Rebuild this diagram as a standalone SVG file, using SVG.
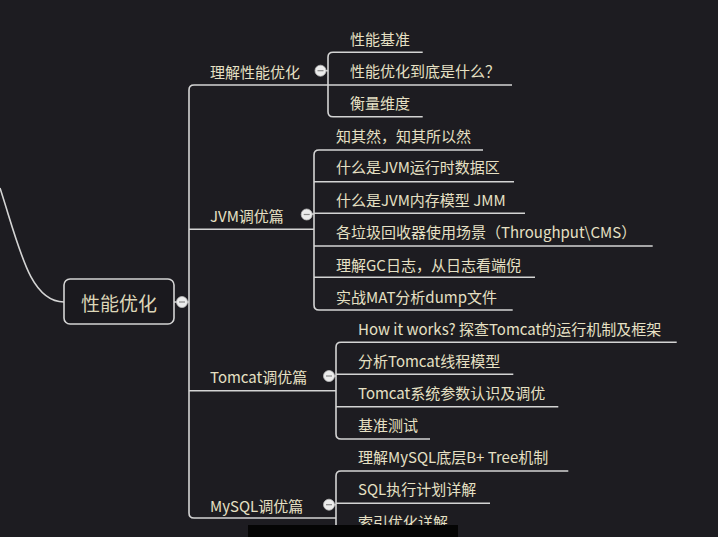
<svg xmlns="http://www.w3.org/2000/svg" width="718" height="537" viewBox="0 0 718 537">
<style>
.t{font-family:"Noto Sans CJK SC","Noto Sans",sans-serif;font-size:15px;fill:#e6e0c4;dominant-baseline:central}
.root{font-size:19px;fill:#ddd6b8}
.ln{fill:none;stroke:#d4d4d4;stroke-width:1.6}
.btn{fill:#ececec;stroke:#bdbdbd;stroke-width:0.8}
.mn{stroke:#8a8a8a;stroke-width:1.2}
</style>
<rect width="718" height="537" fill="#1d1c21"/>
<g id="connectors">
<path class="ln" d="M0,188 C20,250 30,302 64,302"/>
<path class="ln" d="M174,302 H189"/>
<path class="ln" d="M328,85 H194 Q189,85 189,90 V513 Q189,518 194,518 H336"/>
<path class="ln" d="M189,229.3 H314"/>
<path class="ln" d="M189,390.7 H336"/>
<path class="ln" d="M422.7,52.3 H333 Q328,52.3 328,57.3 V111.7 Q328,116.7 333,116.7 H422.7"/>
<path class="ln" d="M328,85 H512"/>
<path class="ln" d="M320,70.7 H328"/>
<path class="ln" d="M483,150 H319 Q314,150 314,155 V305 Q314,310 319,310 H512.7"/>
<path class="ln" d="M314,181.7 H514"/>
<path class="ln" d="M314,213.3 H525"/>
<path class="ln" d="M314,246 H652.7"/>
<path class="ln" d="M314,277.3 H535"/>
<path class="ln" d="M306.7,214 H314"/>
<path class="ln" d="M676.7,342.3 H341 Q336,342.3 336,347.3 V434 Q336,439 341,439 H430"/>
<path class="ln" d="M336,374.3 H513.3"/>
<path class="ln" d="M336,406.7 H558.3"/>
<path class="ln" d="M329,376 H336"/>
<path class="ln" d="M568.3,471 H341 Q336,471 336,476 V537"/>
<path class="ln" d="M336,503.3 H490"/>
<path class="ln" d="M329,504.7 H336"/>
</g>
<g id="root">
<rect x="64" y="279" width="110" height="45" rx="6" fill="#1a191e" stroke="#d4d4d4" stroke-width="1.6"/>
<text class="t root" x="119" y="302" text-anchor="middle">性能优化</text>
<circle class="btn" cx="182" cy="302" r="5.5"/><path class="mn" d="M179,302 H185"/>
</g>
<g id="n-lijie">
<text class="t" x="210" y="71">理解性能优化</text>
<circle class="btn" cx="320.5" cy="70.7" r="5.5"/><path class="mn" d="M317.5,70.7 H323.5"/>
</g>
<g id="n-lijie-1"><text class="t" x="350" y="38">性能基准</text></g>
<g id="n-lijie-2"><text class="t" x="350" y="70.7">性能优化到底是什么？</text></g>
<g id="n-lijie-3"><text class="t" x="350" y="102.7">衡量维度</text></g>
<g id="n-jvm">
<text class="t" x="210" y="215">JVM调优篇</text>
<circle class="btn" cx="306.7" cy="214.5" r="5.5"/><path class="mn" d="M303.7,214.5 H309.7"/>
</g>
<g id="n-jvm-1"><text class="t" x="336" y="135">知其然，知其所以然</text></g>
<g id="n-jvm-2"><text class="t" x="336" y="166.7">什么是JVM运行时数据区</text></g>
<g id="n-jvm-3"><text class="t" x="336" y="199.5">什么是JVM内存模型 JMM</text></g>
<g id="n-jvm-4"><text class="t" x="336" y="231.7">各垃圾回收器使用场景（Throughput\CMS）</text></g>
<g id="n-jvm-5"><text class="t" x="336" y="264">理解GC日志，从日志看端倪</text></g>
<g id="n-jvm-6"><text class="t" x="336" y="296.7">实战MAT分析dump文件</text></g>
<g id="n-tomcat">
<text class="t" x="210" y="376.7">Tomcat调优篇</text>
<circle class="btn" cx="329" cy="376" r="5.5"/><path class="mn" d="M326,376 H332"/>
</g>
<g id="n-tomcat-1"><text class="t" x="358" y="328.3">How it works? 探查Tomcat的运行机制及框架</text></g>
<g id="n-tomcat-2"><text class="t" x="358" y="360">分析Tomcat线程模型</text></g>
<g id="n-tomcat-3"><text class="t" x="358" y="392.7">Tomcat系统参数认识及调优</text></g>
<g id="n-tomcat-4"><text class="t" x="358" y="424.3">基准测试</text></g>
<g id="n-mysql">
<text class="t" x="210" y="505">MySQL调优篇</text>
<circle class="btn" cx="329" cy="504.7" r="5.5"/><path class="mn" d="M326,504.7 H332"/>
</g>
<g id="n-mysql-1"><text class="t" x="358" y="456.7">理解MySQL底层B+ Tree机制</text></g>
<g id="n-mysql-2"><text class="t" x="358" y="488.3">SQL执行计划详解</text></g>
<g id="n-mysql-3"><text class="t" x="358" y="521">索引优化详解</text></g>
<rect x="248" y="525" width="210" height="12" fill="#050505"/>
</svg>
